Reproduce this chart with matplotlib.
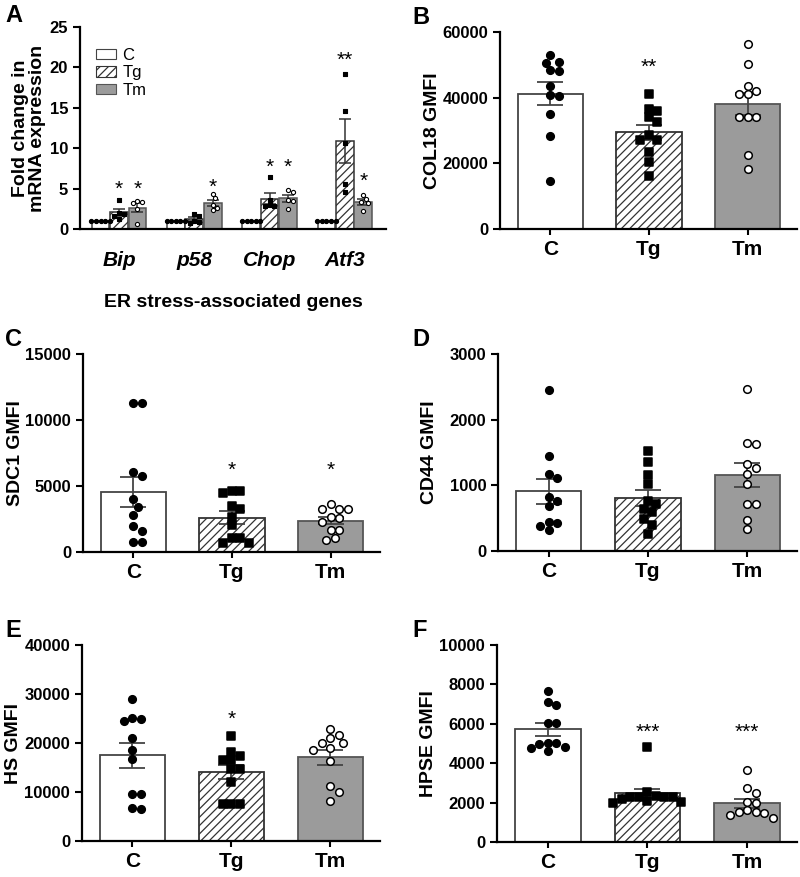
import numpy as np
import matplotlib
matplotlib.use('Agg')
import matplotlib.pyplot as plt
from matplotlib.patches import Patch

plt.rcParams['font.family'] = ['Liberation Sans', 'DejaVu Sans']
plt.rcParams['hatch.linewidth'] = 0.9

# ---- panel A data (fold change, n=5 per group) ----
genes = ['Bip', 'p58', 'Chop', 'Atf3']
a_c = [[1, 1, 1, 1, 1]] * 4
a_tg = [[3.6, 2.0, 1.9, 1.6, 1.2],
        [1.9, 1.6, 1.0, 0.9, 0.8],
        [6.4, 3.6, 3.0, 2.8, 2.8],
        [19.2, 14.6, 10.6, 5.6, 4.6]]
a_tm = [[3.5, 3.4, 3.2, 2.5, 0.6],
        [4.3, 3.8, 3.0, 2.6, 2.3],
        [4.8, 4.6, 3.6, 3.5, 2.5],
        [4.2, 3.7, 3.4, 3.2, 2.2]]
a_sig_tg = ['*', '', '*', '**']
a_sig_tm = ['*', '*', '*', '*']
a_sig_y_tg = [5.8, 6.0, 8.5, 21.7]
a_sig_y_tm = [5.8, 6.0, 8.5, 6.8]

# ---- panels B-F (GMFI, n=11 per group) ----
groups = ['C', 'Tg', 'Tm']

col18_c = [52900, 50900, 50600, 48300, 48100, 43600, 40700, 40500, 35000, 28200, 14500]
col18_tg = [41250, 36670, 35960, 34000, 32700, 28600, 27100, 27100, 23530, 20370, 16100]
col18_tm = [56300, 50300, 43600, 42000, 41000, 41000, 34000, 34200, 34200, 22600, 18300]

sdc1_c = [11310, 11310, 6050, 5720, 4000, 3440, 2810, 1970, 1620, 780, 780]
sdc1_tg = [4600, 4600, 4450, 3520, 3240, 2680, 2020, 1090, 1060, 660, 660]
sdc1_tm = [3640, 3260, 3260, 3260, 2680, 2550, 2250, 1670, 1670, 1060, 940]

cd44_c = [2451, 1450, 1166, 1105, 824, 763, 692, 442, 427, 386, 315]
cd44_tg = [1520, 1353, 1159, 1027, 763, 712, 646, 590, 483, 402, 264]
cd44_tm = [2461, 1640, 1627, 1332, 1271, 1180, 1027, 722, 722, 468, 336]

hs_c = [28980, 25170, 24970, 24490, 20950, 18570, 16730, 9520, 9520, 6670, 6530]
hs_tg = [21490, 18220, 17410, 16530, 16530, 14630, 14630, 12100, 7550, 7550, 7550]
hs_tm = [22800, 21560, 20950, 20000, 19930, 18900, 18640, 16260, 11160, 9930, 8230]

hpse_c = [7660, 7120, 6950, 6050, 6020, 5050, 5030, 5000, 4800, 4780, 4610]
hpse_tg = [4840, 2550, 2350, 2270, 2270, 2270, 2270, 2200, 2100, 2050, 2000]
hpse_tm = [3640, 2760, 2490, 2030, 2000, 1610, 1530, 1500, 1450, 1360, 1220]

W, H = 800, 877
fig = plt.figure(figsize=(8, 8.77), dpi=100)


def px_axes(l, t, r, b):
  return fig.add_axes([l / W, 1 - b / H, (r - l) / W, (b - t) / H])


bar_style = [
  dict(facecolor='white', edgecolor='#444444', hatch=None),
  dict(facecolor='white', edgecolor='#333333', hatch='////'),
  dict(facecolor='#9b9b9b', edgecolor='#555555', hatch=None),
]
pt_style = [
  dict(marker='o', facecolor='black', edgecolor='black'),
  dict(marker='s', facecolor='black', edgecolor='black'),
  dict(marker='o', facecolor='white', edgecolor='black'),
]


def swarm_x(ax, xc, vals, d):
  # simple beeswarm in pixel space, returns x positions in data units
  pts = ax.transData.transform([(xc, v) for v in vals])
  order = np.argsort(-np.asarray(vals, dtype=float))
  cands = [0.0] + [s * j * d / 2 for j in range(1, 30) for s in (1, -1)]
  placed = []
  xs = np.zeros(len(vals))
  inv = ax.transData.inverted()
  for i in order:
    px, py = pts[i]
    for c in cands:
      if all((px + c - qx) ** 2 + (py - qy) ** 2 >= (d * 0.97) ** 2 for qx, qy in placed):
        break
    placed.append((px + c, py))
    xs[i] = inv.transform((px + c, py))[0]
  return xs


def style_axes(ax):
  for s in ['top', 'right']:
    ax.spines[s].set_visible(False)
  for s in ['left', 'bottom']:
    ax.spines[s].set_linewidth(1.6)
  ax.tick_params(axis='y', width=1.5, length=5, labelsize=12)
  for lab in ax.get_yticklabels():
    lab.set_fontweight('bold')


def stat_panel(rect, data, ymax, ystep, ylabel, letter, letter_x, sig, sig_y):
  ax = px_axes(*rect)
  ax.set_xlim(-0.51, 2.5)
  ax.set_ylim(0, ymax)
  ax.set_yticks(np.arange(0, ymax + 1, ystep))
  x = np.arange(3)
  for i, vals in enumerate(data):
    vals = np.asarray(vals, dtype=float)
    m = vals.mean()
    sem = vals.std(ddof=1) / np.sqrt(len(vals))
    ax.bar(x[i], m, width=0.66, linewidth=1.3, zorder=1, **bar_style[i])
    ax.errorbar(x[i], m, yerr=sem, fmt='none', ecolor='#444444', elinewidth=1.3,
                capsize=9.5, capthick=1.3, zorder=2)
    xs = swarm_x(ax, x[i], vals, 8.5)
    ax.scatter(xs, vals, s=30, linewidths=1.1, zorder=3, **pt_style[i])
    if sig[i]:
      ax.annotate(sig[i], (x[i], sig_y), xytext=(0, -9), textcoords='offset points',
                  ha='center', va='baseline', fontsize=15)
  ax.set_xticks(x)
  ax.set_xticklabels(groups, fontsize=15, fontweight='bold')
  ax.tick_params(axis='x', width=1.5, length=4, pad=4)
  style_axes(ax)
  ax.set_ylabel(ylabel, fontsize=14, fontweight='bold')
  ax.yaxis.set_label_coords(-0.2, 0.5)
  fig.text(letter_x / W, 1 - (rect[1] - 26) / H, letter, fontsize=17,
           fontweight='bold', va='top', ha='left')
  return ax


# ---- panel A ----
axA = px_axes(80, 27, 386, 229)
axA.set_xlim(-0.518, 3.546)
axA.set_ylim(0, 25)
axA.set_yticks(np.arange(0, 26, 5))
off = 0.245
for g in range(4):
  for i, grp in enumerate([a_c[g], a_tg[g], a_tm[g]]):
    vals = np.asarray(grp, dtype=float)
    xc = g + (i - 1) * off
    m = vals.mean()
    sem = vals.std(ddof=1) / np.sqrt(len(vals))
    axA.bar(xc, m, width=0.235, linewidth=1.1, zorder=1, **bar_style[i])
    if sem > 0:
      axA.errorbar(xc, m, yerr=sem, fmt='none', ecolor='#333333', elinewidth=1.1,
                   capsize=4.5, capthick=1.1, zorder=2)
    xs = swarm_x(axA, xc, vals, 4.6)
    axA.scatter(xs, vals, s=9, linewidths=0.8, zorder=3, **pt_style[i])
  for i, (s, sy) in enumerate([(a_sig_tg[g], a_sig_y_tg[g]), (a_sig_tm[g], a_sig_y_tm[g])]):
    if s:
      axA.annotate(s, (g + i * off, sy), xytext=(0, -9), textcoords='offset points',
                   ha='center', va='baseline', fontsize=15)
axA.set_xticks(range(4))
axA.set_xticklabels(genes, fontsize=15, fontweight='bold', fontstyle='italic')
axA.tick_params(axis='x', length=0, pad=16)
style_axes(axA)
axA.set_ylabel('Fold change in\nmRNA expression', fontsize=14, fontweight='bold',
               linespacing=1.0)
axA.yaxis.set_label_coords(-0.112, 0.5)
axA.set_xlabel('ER stress-associated genes', fontsize=14, fontweight='bold', labelpad=17)
handles = [Patch(linewidth=0.8, **bar_style[0]), Patch(linewidth=0.8, **bar_style[1]),
           Patch(linewidth=0.8, **bar_style[2])]
axA.legend(handles, groups, loc='upper left', bbox_to_anchor=(0.03, 0.93), frameon=False,
           fontsize=12, handlelength=1.2, handleheight=0.6, labelspacing=0.15,
           handletextpad=0.4, borderaxespad=0)
fig.text(5 / W, 1 - 4 / H, 'A', fontsize=17, fontweight='bold', va='top', ha='left')

# ---- panels B-F ----
stat_panel((500, 32, 797, 229), [col18_c, col18_tg, col18_tm], 60000, 20000,
           'COL18 GMFI', 'B', 412, ['', '**', ''], 51500)
stat_panel((83, 354, 380, 552), [sdc1_c, sdc1_tg, sdc1_tm], 15000, 5000,
           'SDC1 GMFI', 'C', 5, ['', '*', '*'], 6700)
stat_panel((498, 354, 797, 551), [cd44_c, cd44_tg, cd44_tm], 3000, 1000,
           'CD44 GMFI', 'D', 412, ['', '', ''], 0)
stat_panel((82, 645, 380, 841), [hs_c, hs_tg, hs_tm], 40000, 10000,
           'HS GMFI', 'E', 5, ['', '*', ''], 26200)
stat_panel((497, 645, 797, 842), [hpse_c, hpse_tg, hpse_tm], 10000, 2000,
           'HPSE GMFI', 'F', 412, ['', '***', '***'], 5900)

fig.savefig('out.png', dpi=100)
